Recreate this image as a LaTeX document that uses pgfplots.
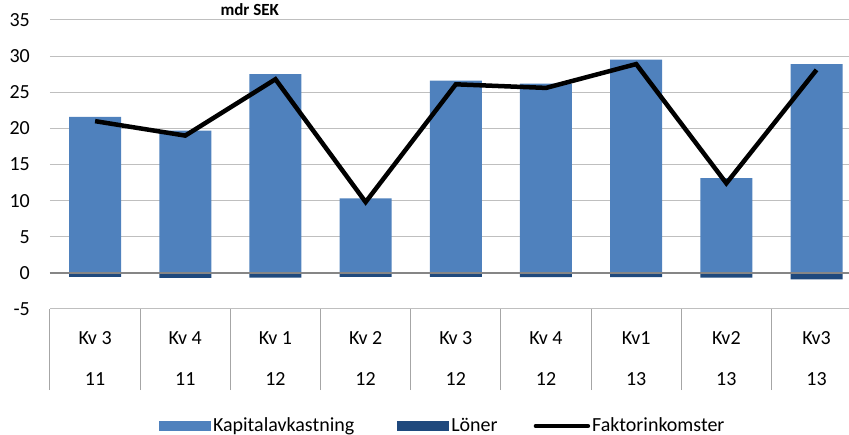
\documentclass[border=0pt]{standalone}
\usepackage{fontspec}
\setmainfont{Carlito}
\usepackage{pgfplots}
\pgfplotsset{compat=1.18}
\definecolor{kap}{HTML}{4F81BD}
\definecolor{lon}{HTML}{1F497D}
\definecolor{gridc}{HTML}{BFBFBF}
\definecolor{zeroc}{HTML}{868686}
\definecolor{sepc}{HTML}{A6A6A6}
\begin{document}
\fontsize{20}{24}\selectfont
\begin{tikzpicture}
\path[use as bounding box] (-50pt,-126pt) rectangle (799pt,309pt);
\begin{axis}[
  at={(0pt,0pt)}, anchor=south west,
  scale only axis, width=799pt, height=289pt,
  clip mode=individual,
  xmin=-0.5, xmax=8.36, ymin=-5, ymax=35,
  ytick={-5,0,...,35},
  /pgf/number format/assume math mode=true,
  ymajorgrids, grid style={gridc, line width=1pt},
  axis line style={draw=none},
  xtick={0,...,8},
  xticklabels={{Kv 3\\[17pt]11},{Kv 4\\[17pt]11},{Kv 1\\[17pt]12},{Kv 2\\[17pt]12},{Kv 3\\[17pt]12},{Kv 4\\[17pt]12},{Kv1\\[17pt]13},{Kv2\\[17pt]13},{Kv3\\[17pt]13}},
  minor xtick={-0.5,0.5,...,8.5},
  tick align=outside, xtick pos=left, ytick pos=left,
  major tick length=0pt, minor tick length=81pt,
  major x tick style={draw=none}, y tick style={draw=none},
  minor x tick style={sepc, line width=1pt},
  tick label style={font=\fontsize{20}{24}\selectfont},
  xticklabel style={align=center, anchor=north, inner sep=0pt, yshift=-22pt},
  yticklabel style={inner sep=0pt, xshift=-20pt},
  legend columns=3,
  legend style={draw=none, fill=none, inner sep=0pt, outer sep=0pt,
    at={(109pt,-117pt)}, anchor=west,
    font=\fontsize{20}{24}\selectfont,
    /tikz/column 2/.style={column sep=41pt},
    /tikz/column 4/.style={column sep=34pt}},
  legend cell align=left,
]
\addplot[ybar, bar width=52pt, bar shift=0pt, fill=kap, draw=none,
  legend image code/.code={\fill[kap] (0pt,-5pt) rectangle (52pt,5pt);}]
  coordinates {(0,21.6) (1,19.7) (2,27.5) (3,10.3) (4,26.6) (5,26.2) (6,29.5) (7,13.1) (8,28.9)};
\addlegendentry{Kapitalavkastning}
\addplot[ybar, bar width=52pt, bar shift=0pt, fill=lon, draw=none,
  legend image code/.code={\fill[lon] (0pt,-5pt) rectangle (52pt,5pt);}]
  coordinates {(0,-0.55) (1,-0.7) (2,-0.65) (3,-0.55) (4,-0.55) (5,-0.6) (6,-0.6) (7,-0.65) (8,-0.9)};
\addlegendentry{Löner}
\draw[zeroc, line width=1.5pt] (axis cs:-0.5,0) -- (axis cs:8.36,0);
\addplot[black, line width=4.5pt, sharp plot, mark=none,
  legend image code/.code={\draw[black, line width=4.5pt, line cap=round] (2pt,0pt) -- (54pt,0pt);}]
  coordinates {(0,21.0) (1,19.0) (2,26.8) (3,9.8) (4,26.1) (5,25.6) (6,28.9) (7,12.4) (8,28.1)};
\addlegendentry{Faktorinkomster}
\node[font=\bfseries\fontsize{17}{20}\selectfont] at (rel axis cs:0.25,1) [yshift=10pt] {mdr SEK};
\end{axis}
\end{tikzpicture}
\end{document}
